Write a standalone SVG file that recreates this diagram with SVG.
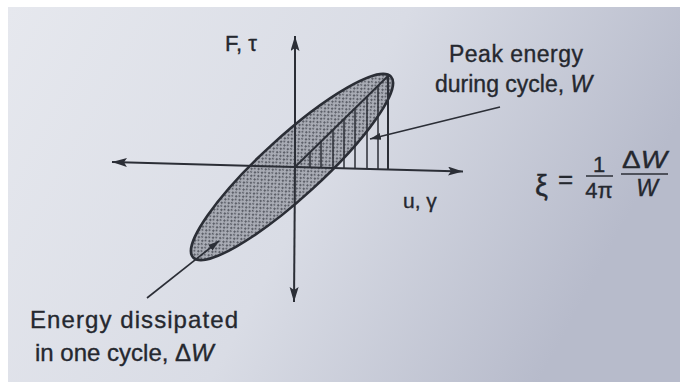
<svg xmlns="http://www.w3.org/2000/svg" width="680" height="385" viewBox="0 0 680 385">
<defs>
<linearGradient id="bg" x1="0" y1="0" x2="1" y2="0.3">
<stop offset="0" stop-color="#e6e8ee"/>
<stop offset="0.55" stop-color="#d9dce5"/>
<stop offset="1" stop-color="#b7bbcb"/>
</linearGradient>
<pattern id="stip" width="5" height="5" patternUnits="userSpaceOnUse">
<rect width="5" height="5" fill="#a9acb5"/>
<circle cx="1" cy="1" r="1" fill="#44474f"/>
<circle cx="3.5" cy="3" r="0.9" fill="#52555e"/>
</pattern>
<marker id="ah" markerWidth="16" markerHeight="10" refX="15" refY="4.5" orient="auto" markerUnits="userSpaceOnUse">
<path d="M0,0 L15,4.5 L0,9 L3,4.5 z" fill="#2b2e36"/>
</marker>
<marker id="sah" markerWidth="12" markerHeight="8" refX="11" refY="3.5" orient="auto" markerUnits="userSpaceOnUse">
<path d="M0,0 L11,3.5 L0,7 z" fill="#2b2e36"/>
</marker>
</defs>
<style>
.t{font-family:"Liberation Sans",Arial,sans-serif;fill:#25282f;stroke:#25282f;stroke-width:0.35}
.ax{stroke:#2b2e36;stroke-width:2;fill:none}
.ln{stroke:#2b2e36;stroke-width:1.6;fill:none}
.h{stroke:#2b2e36;stroke-width:1.5}
</style>
<rect width="680" height="385" fill="#ffffff"/>
<rect x="8" y="7" width="672" height="375" fill="url(#bg)"/>

<g id="loop">
<ellipse cx="292" cy="167" rx="134" ry="30" transform="rotate(-42.4 292 167)" fill="url(#stip)" stroke="#2b2e36" stroke-width="2.6"/>
</g>
<g id="peak-triangle">
<g class="h">
<line x1="310" y1="167.5" x2="310" y2="152.5"/>
<line x1="321" y1="167.8" x2="321" y2="141.8"/>
<line x1="333" y1="168.1" x2="333" y2="130.1"/>
<line x1="344" y1="168.4" x2="344" y2="119.4"/>
<line x1="355" y1="168.7" x2="355" y2="108.7"/>
<line x1="367" y1="169" x2="367" y2="97"/>
<line x1="378" y1="169.3" x2="378" y2="86"/>
</g>
<line class="ax" x1="295" y1="167" x2="388" y2="76"/>
<line class="ax" x1="388" y1="76" x2="388" y2="169.5"/>
</g>

<g id="axes">
<line class="ax" x1="295" y1="167" x2="112" y2="162" marker-end="url(#ah)"/>
<line class="ax" x1="295" y1="167" x2="463" y2="171.5" marker-end="url(#ah)"/>
<line class="ax" x1="295" y1="167" x2="295" y2="36" marker-end="url(#ah)"/>
<line class="ax" x1="295" y1="167" x2="294" y2="302" marker-end="url(#ah)"/>
</g>

<g id="connectors">
<line class="ln" x1="500" y1="107" x2="370" y2="139" marker-end="url(#sah)"/>
<line class="ln" x1="147" y1="298" x2="219" y2="241" marker-end="url(#sah)"/>
</g>

<g id="labels">
<text class="t" x="225" y="51" font-size="22">F, τ</text>
<text class="t" x="403" y="208" font-size="21">u, γ</text>
<text class="t" x="449" y="62" font-size="23" textLength="134">Peak energy</text>
<text class="t" x="435" y="92" font-size="23">during cycle, <tspan font-style="italic">W</tspan></text>
<text class="t" x="30" y="328" font-size="24" textLength="208">Energy dissipated</text>
<text class="t" x="35" y="361" font-size="24">in one cycle, Δ<tspan font-style="italic">W</tspan></text>
</g>

<g id="formula">
<text class="t" x="535" y="196" font-size="29">ξ</text>
<text class="t" x="558" y="188" font-size="26">=</text>
<text class="t" x="599" y="172" font-size="22" text-anchor="middle">1</text>
<line class="h" x1="586" y1="176" x2="613" y2="176"/>
<text class="t" x="599" y="198" font-size="22" text-anchor="middle">4π</text>
<text class="t" x="622" y="168" font-size="24" textLength="45" lengthAdjust="spacingAndGlyphs">Δ<tspan font-style="italic">W</tspan></text>
<line class="h" x1="621" y1="174" x2="668" y2="174"/>
<text class="t" x="647" y="196" font-size="23" text-anchor="middle" font-style="italic">W</text>
</g>
</svg>
